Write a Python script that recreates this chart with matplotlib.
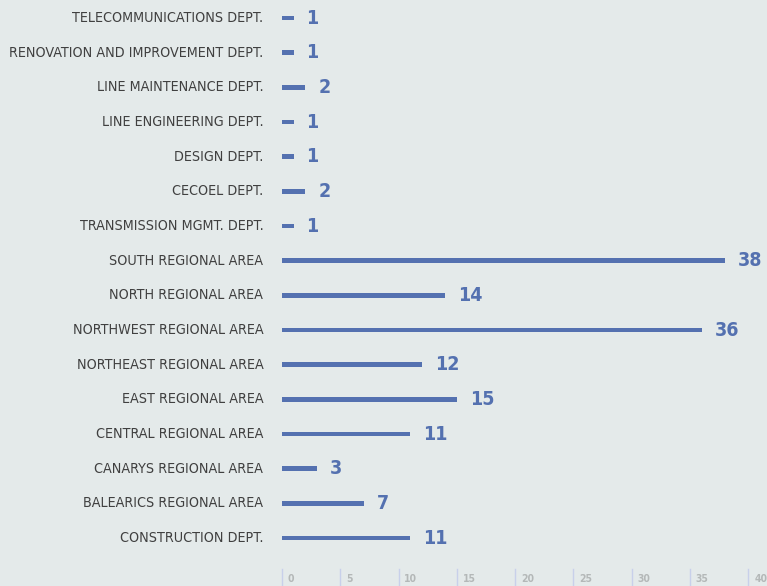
import matplotlib
matplotlib.use("Agg")
import matplotlib.pyplot as plt
from matplotlib.transforms import blended_transform_factory

categories = [
    "TELECOMMUNICATIONS DEPT.",
    "RENOVATION AND IMPROVEMENT DEPT.",
    "LINE MAINTENANCE DEPT.",
    "LINE ENGINEERING DEPT.",
    "DESIGN DEPT.",
    "CECOEL DEPT.",
    "TRANSMISSION MGMT. DEPT.",
    "SOUTH REGIONAL AREA",
    "NORTH REGIONAL AREA",
    "NORTHWEST REGIONAL AREA",
    "NORTHEAST REGIONAL AREA",
    "EAST REGIONAL AREA",
    "CENTRAL REGIONAL AREA",
    "CANARYS REGIONAL AREA",
    "BALEARICS REGIONAL AREA",
    "CONSTRUCTION DEPT.",
]
values = [1, 1, 2, 1, 1, 2, 1, 38, 14, 36, 12, 15, 11, 3, 7, 11]
xticks = [0, 5, 10, 15, 20, 25, 30, 35, 40]

BG = "#e4eaea"
BAR = "#5471b0"

W, H = 767, 586
fig = plt.figure(figsize=(W / 100, H / 100), dpi=100, facecolor=BG)
n = len(categories)
step = (538 - 18) / (n - 1)
top_px = 18 - step / 2
bot_px = 538 + step / 2
ax = fig.add_axes([282 / W, 1 - bot_px / H, (748.3 - 282) / W, (bot_px - top_px) / H])
ax.set_facecolor(BG)
ax.set_xlim(0, 40)
ax.set_ylim(n - 0.5, -0.5)
ypos = list(range(n))
ax.barh(ypos, values, height=0.13, color=BAR)

for s in ax.spines.values():
    s.set_visible(False)
ax.set_xticks([])
ax.set_yticks([])

for y, c, v in zip(ypos, categories, values):
    ax.text(-1.6, y, c, ha="right", va="center", fontsize=10.3, color="#404040",
            family="DejaVu Sans", fontstretch="condensed")
    ax.text(v + 1.1, y, str(v), ha="left", va="center", fontsize=14,
            fontweight="bold", color=BAR, family="DejaVu Sans", fontstretch="condensed")

tr = blended_transform_factory(ax.transData, fig.transFigure)
for t in xticks:
    ax.plot([t, t], [1 - 569 / H, 0], transform=tr, color="#c8d0ea", lw=1,
            clip_on=False)
    ax.text(t + 0.5, 1 - 579 / H, str(t), transform=tr, ha="left", va="center",
            fontsize=7.5, color="#b4b8b8", fontweight="bold", clip_on=False,
            family="DejaVu Sans", fontstretch="condensed")

fig.savefig("out.png", dpi=100, facecolor=BG)
